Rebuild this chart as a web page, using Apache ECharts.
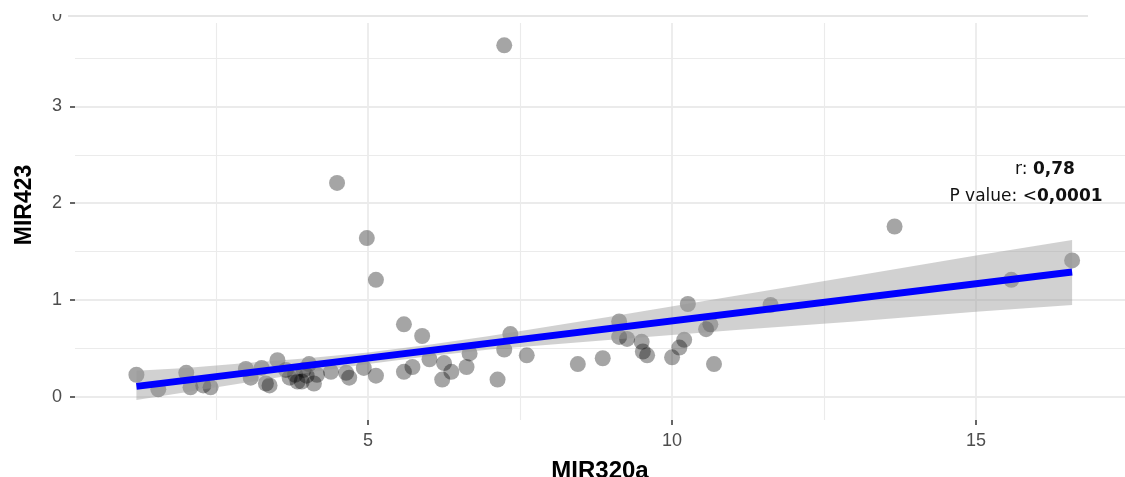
<!DOCTYPE html>
<html><head><meta charset="utf-8">
<script src="https://cdn.jsdelivr.net/npm/echarts@6/dist/echarts.min.js"></script>
<style>html,body{margin:0;padding:0;background:#fff}#c{width:1125px;height:477px}</style>
</head><body><div id="c"></div>
<script>
// ---- data ----
const xTickValues = [5, 10, 15];
const yTickValues = [0, 1, 2, 3];
const xMajorGrid = [5, 10, 15];
const xMinorGrid = [2.5, 7.5, 12.5];
const yMajorGrid = [0, 1, 2, 3];
const yMinorGrid = [0.5, 1.5, 2.5, 3.5];

const pointX = [1.19,1.55,2.01,2.08,2.29,2.41,2.99,3.07,3.25,3.32,3.38,3.51,3.65,3.71,3.80,3.84,3.91,3.94,3.99,4.03,4.11,4.16,4.39,4.49,4.64,4.69,4.93,4.98,5.13,5.13,5.59,5.59,5.73,5.89,6.01,6.22,6.25,6.37,6.62,6.67,7.13,7.24,7.24,7.34,7.61,8.45,8.86,9.13,9.13,9.26,9.50,9.52,9.59,10.00,10.12,10.20,10.26,10.56,10.63,10.69,11.62,13.66,15.58,16.58];
const pointY = [0.23,0.08,0.25,0.10,0.12,0.10,0.29,0.20,0.30,0.14,0.12,0.38,0.28,0.20,0.23,0.16,0.16,0.28,0.22,0.34,0.14,0.23,0.26,2.21,0.25,0.20,0.30,1.64,1.21,0.22,0.75,0.26,0.31,0.63,0.39,0.18,0.35,0.26,0.31,0.45,0.18,0.49,3.63,0.65,0.43,0.34,0.40,0.78,0.62,0.60,0.57,0.47,0.43,0.41,0.51,0.59,0.96,0.70,0.75,0.34,0.95,1.76,1.21,1.41];

const fitX = [1.19, 16.58];
const fitY = [0.11, 1.29];

const bandX     = [1.19, 2,    3,    4,    5,    6,    7,    9,    11,   13,   15,   16.58];
const bandUpper = [0.27, 0.30, 0.35, 0.40, 0.46, 0.54, 0.63, 0.83, 1.04, 1.25, 1.46, 1.62];
const bandLower = [-0.03,0.05, 0.15, 0.25, 0.34, 0.42, 0.49, 0.59, 0.69, 0.78, 0.88, 0.95];

const xTitle = 'MIR320a';
const yTitle = 'MIR423';
const rLabel = '0,78';
const pLabel = '0,0001';

// ---- chart ----
const chart = echarts.init(document.getElementById('c'), null, {renderer: 'canvas'});
const gridColor = '#ebebeb';
const tickFont = "'Liberation Sans Narrow','Liberation Sans',Arial,sans-serif";

const gridLines = []
  .concat(xMajorGrid.map(v => ({xAxis: v, lineStyle: {width: 1.8, color: gridColor, type: 'solid'}})))
  .concat(xMinorGrid.map(v => ({xAxis: v, lineStyle: {width: 1.1, color: gridColor, type: 'solid'}})))
  .concat(yMajorGrid.map(v => ({yAxis: v, lineStyle: {width: 1.8, color: gridColor, type: 'solid'}})))
  .concat(yMinorGrid.map(v => ({yAxis: v, lineStyle: {width: 1.1, color: gridColor, type: 'solid'}})));

const annFont = "'DejaVu Sans',sans-serif";

chart.setOption({
  animation: false,
  backgroundColor: '#ffffff',
  grid: {left: 75, right: 0, top: 23, bottom: 57, containLabel: false, outerBoundsMode: 'none'},
  xAxis: {
    type: 'value', min: 0.18, max: 17.45,
    name: xTitle, nameLocation: 'middle', nameGap: 39,
    nameTextStyle: {fontFamily: "'Liberation Sans',Arial,sans-serif", fontWeight: 'bold', fontSize: 24, color: '#000'},
    axisLine: {show: false, onZero: false},
    axisTick: {show: true, length: 5, lineStyle: {color: '#333', width: 1.5}, customValues: xTickValues},
    axisLabel: {customValues: xTickValues, color: '#4d4d4d', fontSize: 18, fontFamily: tickFont, margin: 12},
    splitLine: {show: false}
  },
  yAxis: {
    type: 'value', min: -0.237, max: 3.86,
    axisLine: {show: false, onZero: false},
    axisTick: {show: true, length: 5, lineStyle: {color: '#333', width: 1.5}, customValues: yTickValues},
    axisLabel: {customValues: yTickValues, color: '#4d4d4d', fontSize: 18, fontFamily: tickFont, margin: 13},
    splitLine: {show: false}
  },
  graphic: [
    {type: 'line', z: 0, shape: {x1: 68, y1: 16, x2: 1088, y2: 16}, style: {stroke: '#e6e6e6', lineWidth: 2}},
    {type: 'text', x: 57, y: 16, z: 1, style: {text: '0', fill: '#4d4d4d', font: "18px 'Liberation Sans', Arial, sans-serif", align: 'center', verticalAlign: 'middle'}},
    {type: 'rect', z: 2, shape: {x: 40, y: 0, width: 28, height: 14}, style: {fill: '#ffffff'}},
    {type: 'text', x: 25, y: 205, rotation: Math.PI / 2,
      style: {text: yTitle, fill: '#000', font: "bold 23px 'Liberation Sans', Arial, sans-serif", align: 'center', verticalAlign: 'middle'}},
    {type: 'text', x: 1045, y: 170, z: 100,
      style: {text: '{n|r: }{b|' + rLabel + '}', align: 'center', verticalAlign: 'middle',
        rich: {n: {fontFamily: annFont, fontSize: 17, fill: '#111', color: '#111'},
               b: {fontFamily: annFont, fontSize: 17, fontWeight: 'bold', fill: '#111', color: '#111'}}}},
    {type: 'text', x: 1026, y: 197, z: 100,
      style: {text: '{n|P value: <}{b|' + pLabel + '}', align: 'center', verticalAlign: 'middle',
        rich: {n: {fontFamily: annFont, fontSize: 17, fill: '#111', color: '#111'},
               b: {fontFamily: annFont, fontSize: 17, fontWeight: 'bold', fill: '#111', color: '#111'}}}}
  ],
  series: [
    {
      type: 'line', data: [], z: 0, silent: true,
      markLine: {silent: true, z: 0, zlevel: 0, symbol: ['none', 'none'], label: {show: false}, animation: false, data: gridLines}
    },
    {
      type: 'scatter', z: 2,
      data: pointX.map((x, i) => [x, pointY[i]]),
      symbol: 'circle', symbolSize: 16,
      itemStyle: {color: 'rgba(0,0,0,0.44)', borderWidth: 0}
    },
    {
      type: 'custom', z: 3, silent: true,
      data: [[bandX[0], bandLower[0]]],
      renderItem: function (params, api) {
        const pts = [];
        for (let i = 0; i < bandX.length; i++) pts.push(api.coord([bandX[i], bandUpper[i]]));
        for (let i = bandX.length - 1; i >= 0; i--) pts.push(api.coord([bandX[i], bandLower[i]]));
        return {type: 'polygon', shape: {points: pts}, style: {fill: 'rgba(153,153,153,0.45)'}};
      }
    },
    {
      type: 'line', z: 4, silent: true,
      data: fitX.map((x, i) => [x, fitY[i]]),
      symbol: 'none',
      lineStyle: {color: '#0000ff', width: 7}
    }
  ]
});
</script>
</body></html>
